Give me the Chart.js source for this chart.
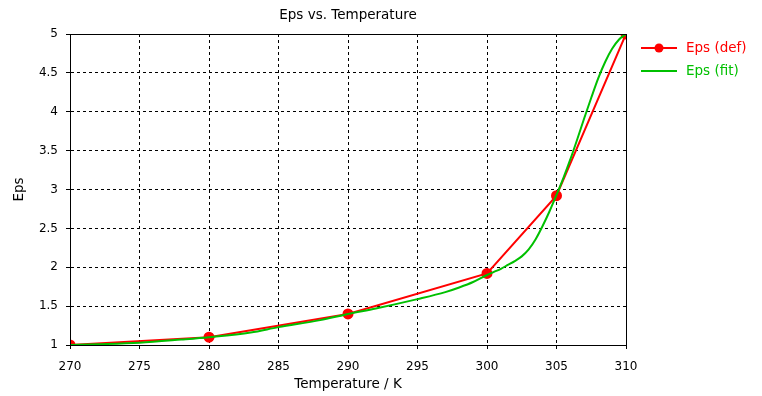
<!DOCTYPE html>
<html><head><meta charset="utf-8">
<script src="https://cdn.jsdelivr.net/npm/chart.js@4/dist/chart.umd.min.js"></script>
<style>html,body{margin:0;padding:0;background:#fff}#wrap{width:762px;height:396px}</style>
</head><body><div id="wrap"><canvas id="c" width="762" height="396"></canvas></div>
<script>
const defTemps = [270, 280, 290, 300, 305, 310];
const defEps = [1.0, 1.1, 1.4, 1.92, 2.92, 5.0];
const fitTemps = [270, 272, 275, 278, 280, 283, 285, 288, 290, 292, 295, 297, 298, 299, 300, 300.5, 301, 301.5, 302, 302.5, 303, 303.5, 304, 304.5, 305, 305.5, 306, 306.5, 307, 307.5, 308, 308.5, 309, 309.5, 310];
const fitEps = [1.0, 1.01, 1.03, 1.07, 1.1, 1.16, 1.23, 1.32, 1.4, 1.47, 1.59, 1.68, 1.74, 1.81, 1.90, 1.94, 1.98, 2.03, 2.08, 2.14, 2.23, 2.36, 2.53, 2.72, 2.93, 3.15, 3.39, 3.65, 3.92, 4.18, 4.43, 4.64, 4.81, 4.93, 5.0];
const xTicks = [270, 275, 280, 285, 290, 295, 300, 305, 310];
const yTicks = [1, 1.5, 2, 2.5, 3, 3.5, 4, 4.5, 5];
const titleText = "Eps vs. Temperature";
const xTitle = "Temperature / K";
const yTitle = "Eps";
const seriesNames = ["Eps (def)", "Eps (fit)"];

const FONT = "DejaVu Sans";
const extras = {
  id: 'extras',
  afterDraw(chart) {
    const ctx = chart.ctx, a = chart.chartArea;
    ctx.save();
    ctx.strokeStyle = '#000'; ctx.lineWidth = 1; ctx.setLineDash([]);
    ctx.strokeRect(a.left + 0.5, a.top + 0.5, a.right - a.left, a.bottom - a.top);
    ctx.fillStyle = '#000';
    ctx.font = '13.5px "' + FONT + '"';
    ctx.textAlign = 'center'; ctx.textBaseline = 'middle';
    ctx.fillText(titleText, (a.left + a.right) / 2, 15);
    ctx.fillText(xTitle, (a.left + a.right) / 2, 384);
    ctx.save();
    ctx.translate(19, (a.top + a.bottom) / 2);
    ctx.rotate(-Math.PI / 2);
    ctx.fillText(yTitle, 0, 0);
    ctx.restore();
    // legend
    const ds = chart.data.datasets;
    const rows = [48, 71];
    ds.forEach((d, i) => {
      const y = rows[i];
      ctx.strokeStyle = d.borderColor; ctx.lineWidth = 2;
      ctx.beginPath(); ctx.moveTo(641, y); ctx.lineTo(677, y); ctx.stroke();
      if (d.pointRadius > 0) {
        ctx.fillStyle = d.pointBackgroundColor;
        ctx.beginPath(); ctx.arc(659, y, 4.5, 0, Math.PI * 2); ctx.fill();
      }
      ctx.fillStyle = d.borderColor;
      ctx.textAlign = 'left';
      ctx.font = '13.5px "' + FONT + '"';
      ctx.fillText(d.label, 686, y);
    });
    ctx.restore();
  }
};

new Chart(document.getElementById('c'), {
  type: 'scatter',
  data: {
    datasets: [
      {
        label: seriesNames[0],
        data: defTemps.map((t, i) => ({x: t, y: defEps[i]})),
        showLine: true,
        borderColor: '#ff0000',
        backgroundColor: '#ff0000',
        pointBackgroundColor: '#ff0000',
        pointBorderColor: '#ff0000',
        borderWidth: 2,
        pointRadius: 4.5,
        tension: 0,
        order: 2
      },
      {
        label: seriesNames[1],
        data: fitTemps.map((t, i) => ({x: t, y: fitEps[i]})),
        showLine: true,
        borderColor: '#00c000',
        backgroundColor: '#00c000',
        pointBackgroundColor: '#00c000',
        borderWidth: 2,
        pointRadius: 0,
        cubicInterpolationMode: 'monotone',
        order: 1
      }
    ]
  },
  options: {
    responsive: false,
    animation: false,
    events: [],
    layout: { padding: { top: 34, right: 136, left: 0, bottom: 0 } },
    plugins: { legend: { display: false }, title: { display: false }, tooltip: { enabled: false } },
    scales: {
      x: {
        type: 'linear', min: 270, max: 310,
        afterFit(s) { s.height = 51; },
        afterBuildTicks(s) { s.ticks = xTicks.map(v => ({value: v})); },
        ticks: { color: '#000', font: { family: FONT, size: 12 }, padding: 11, maxRotation: 0, callback: v => String(v) },
        grid: { color: '#000', tickLength: 4, tickColor: '#000', lineWidth: 1 },
        border: { color: '#000', dash: [3, 3], width: 1 }
      },
      y: {
        type: 'linear', min: 1, max: 5,
        afterFit(s) { s.width = 70; },
        afterBuildTicks(s) { s.ticks = yTicks.map(v => ({value: v})); },
        ticks: { color: '#000', font: { family: FONT, size: 12 }, padding: 8, callback: v => String(v) },
        grid: { color: '#000', tickLength: 4, tickColor: '#000', lineWidth: 1 },
        border: { color: '#000', dash: [3, 3], width: 1 }
      }
    }
  },
  plugins: [extras]
});
</script></body></html>
